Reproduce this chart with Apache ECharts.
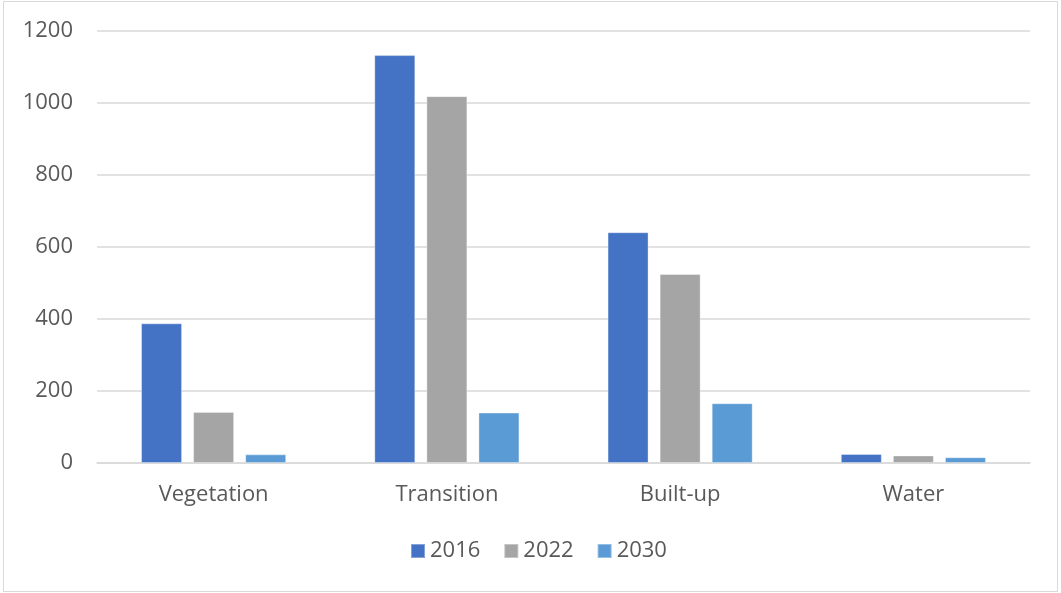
<!DOCTYPE html>
<html><head><meta charset="utf-8">
<script src="https://cdn.jsdelivr.net/npm/echarts@6/dist/echarts.min.js"></script>
<style>
html,body{margin:0;padding:0;background:#fff;}
#frame{position:absolute;left:3px;top:1px;width:1053px;height:589px;border:1px solid #d9d9d9;}
#c{position:absolute;left:0;top:0;width:1061px;height:593px;}
</style></head>
<body>
<div id="frame"></div>
<div id="c"></div>
<script>
const categories = ['Vegetation','Transition','Built-up','Water'];
const seriesNames = ['2016','2022','2030'];
const v2016 = [388, 1133, 641, 25];
const v2022 = [142, 1019, 525, 21];
const v2030 = [24, 140, 166, 16];
const colors = ['#4472C4','#A5A5A5','#5B9BD5'];
const values = [v2016, v2022, v2030];

const chart = echarts.init(document.getElementById('c'));
const font = '"Open Sans", "Liberation Sans", sans-serif';
chart.setOption({
  animation:false,
  textStyle:{fontFamily:font},
  grid:{left:97,right:31,top:31,bottom:130},
  legend:{
    data:seriesNames, bottom:26, left:405,
    itemWidth:14,itemHeight:14,itemGap:23,
    icon:'rect',
    textStyle:{fontSize:22,color:'#595959',fontFamily:font}
  },
  xAxis:{
    type:'category', data:categories,
    axisLine:{lineStyle:{color:'#d9d9d9',width:1.5}},
    axisTick:{show:false},
    axisLabel:{fontSize:22,color:'#595959',margin:21,fontFamily:font}
  },
  yAxis:{
    type:'value', min:0, max:1200, interval:200,
    axisLine:{show:false}, axisTick:{show:false},
    splitLine:{lineStyle:{color:'#d9d9d9',width:1.5}},
    axisLabel:{fontSize:22,color:'#595959',margin:24,fontFamily:font,
      formatter:(v)=>String(v)}
  },
  series: seriesNames.map((n,i)=>({
    name:n, type:'bar', data:values[i], barWidth:41, barGap:'27%',
    itemStyle:{color:colors[i], borderColor:'rgba(255,255,255,0.35)', borderWidth:1}
  }))
});
</script>
</body></html>
